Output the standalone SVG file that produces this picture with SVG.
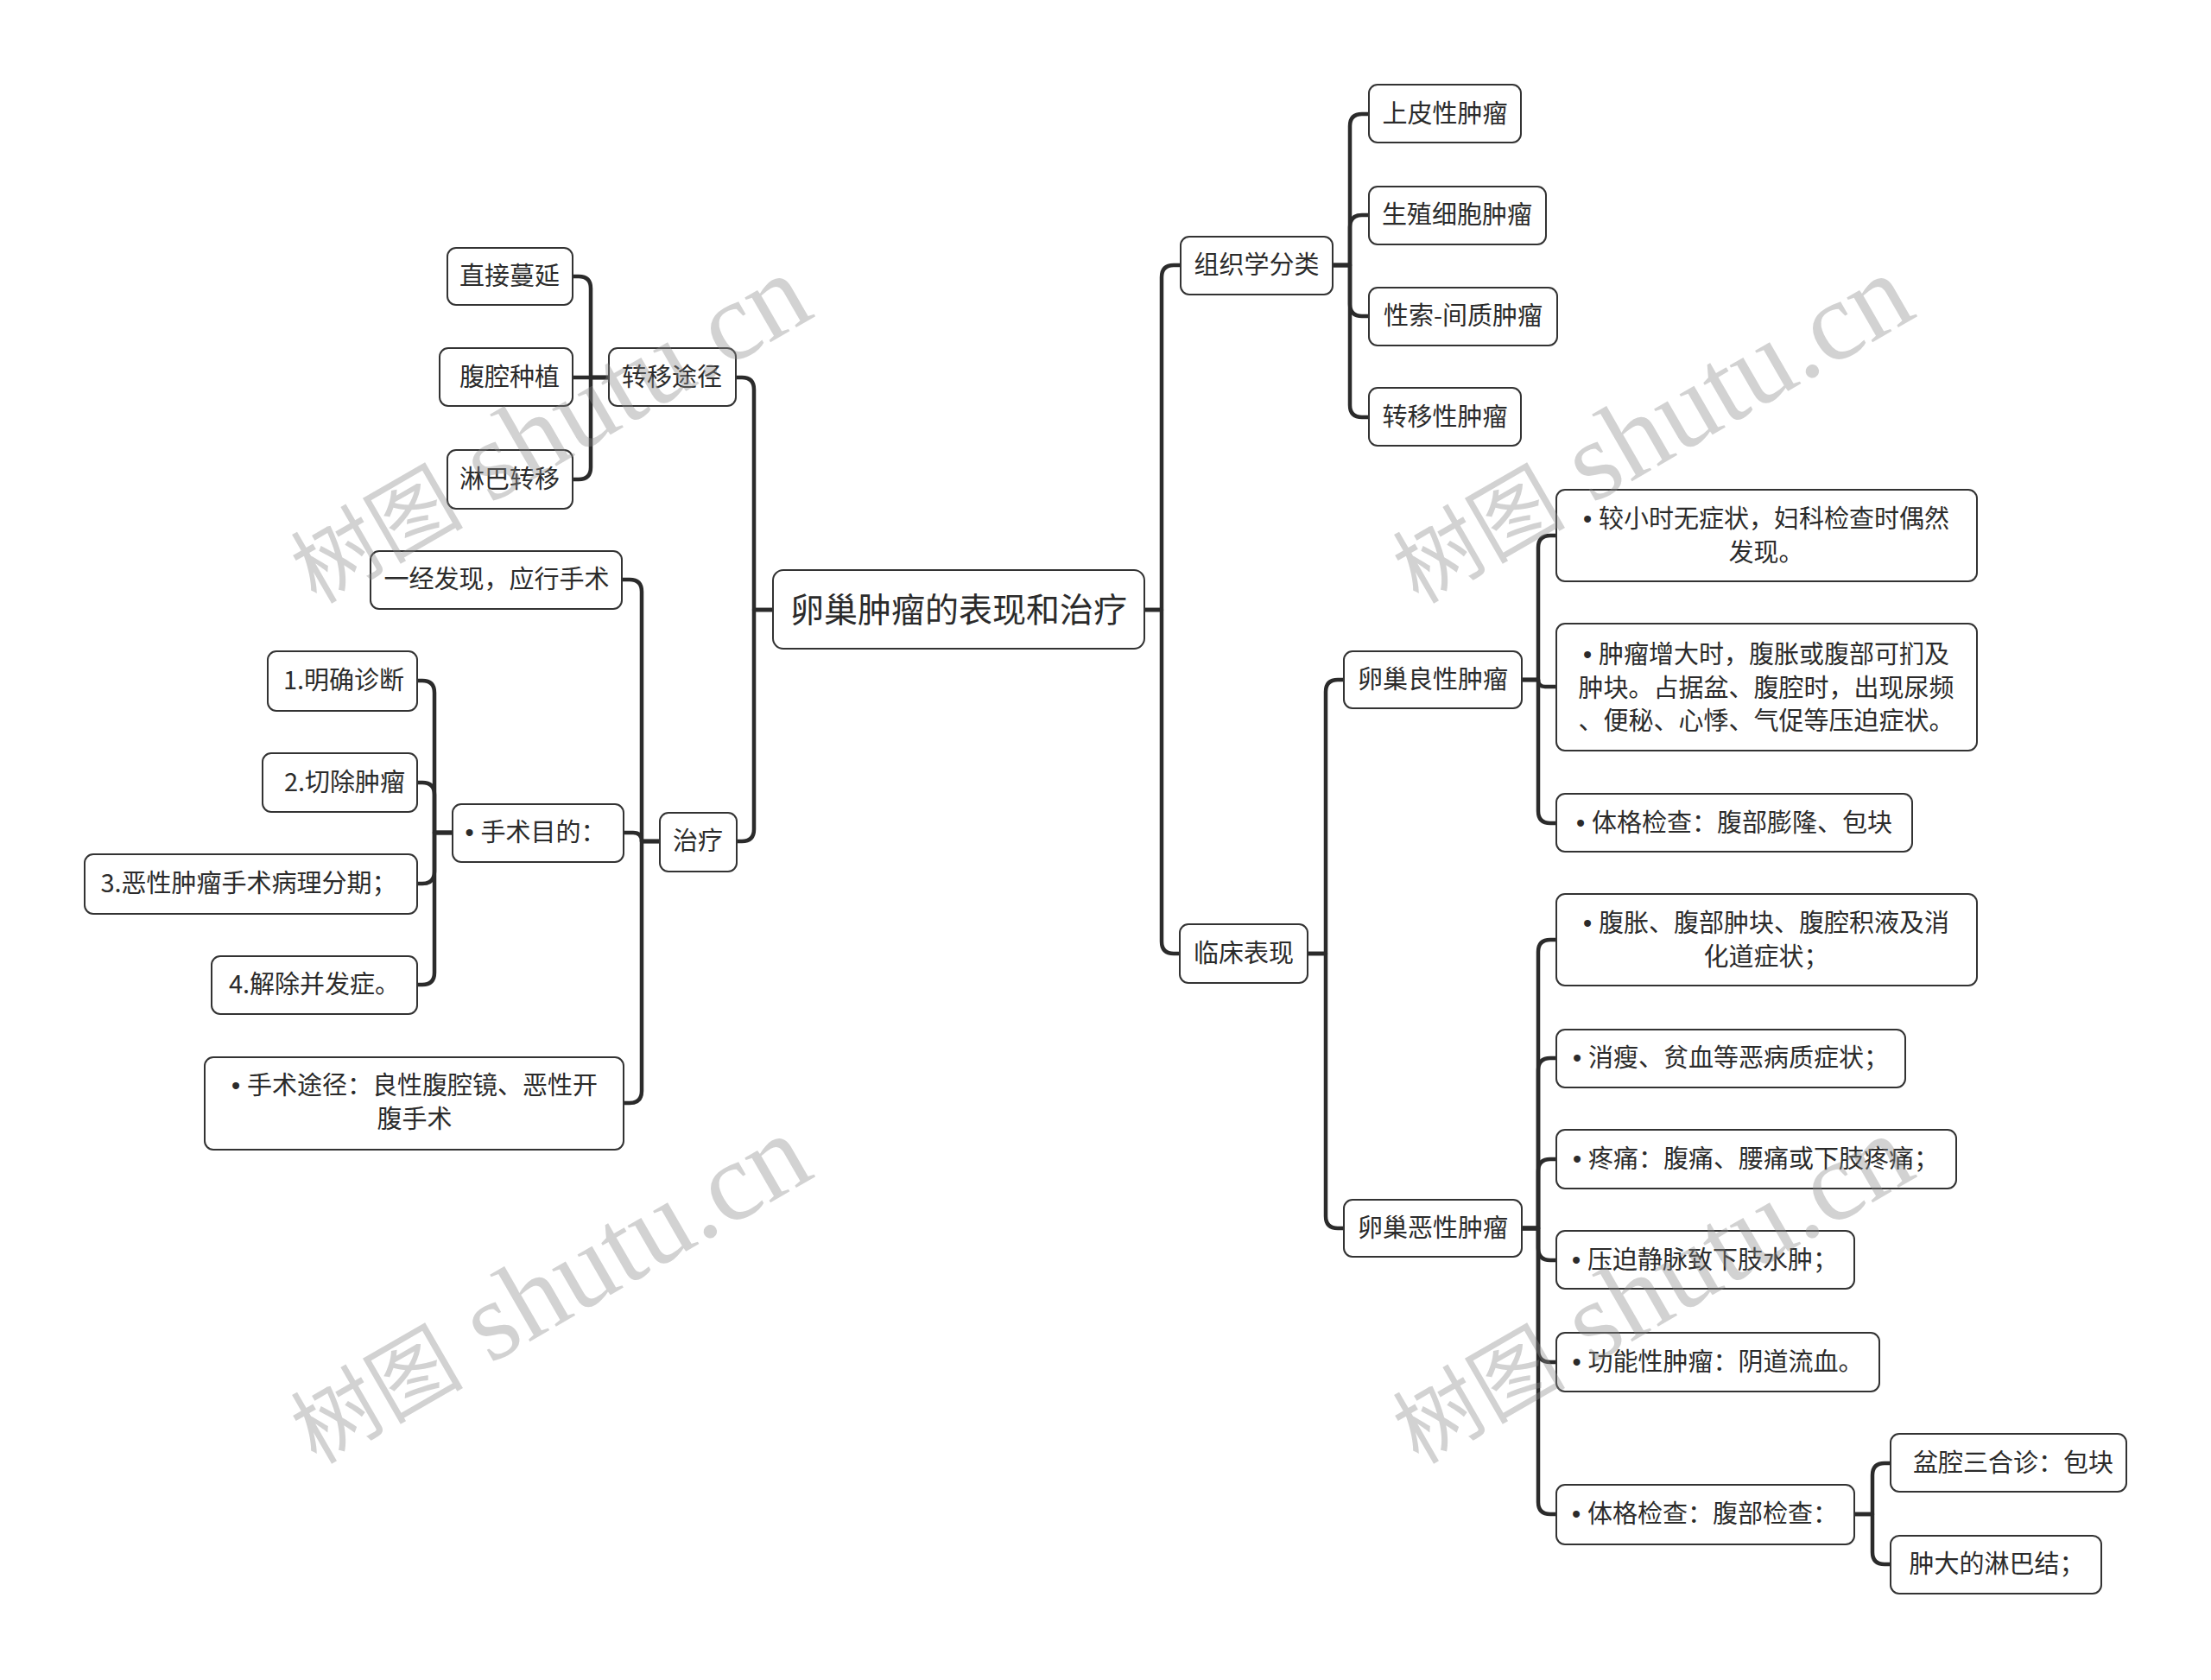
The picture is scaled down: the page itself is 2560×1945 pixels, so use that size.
<svg xmlns="http://www.w3.org/2000/svg" width="2560" height="1945" viewBox="0 0 2560 1945">
<style>
.node rect{fill:#ffffff;stroke:#333333;stroke-width:2}
.node text{font-family:"Noto Sans CJK SC","Noto Sans",sans-serif;font-size:29px;fill:#2b2b2b;text-anchor:middle}
.node .b{font-family:"Liberation Sans",sans-serif}
.root text{font-size:39px}
.conn path{fill:none;stroke:#2b2b2b;stroke-width:4.5;stroke-linecap:round;stroke-linejoin:round}
.wm{fill:#8a8a8a;fill-opacity:0.38}
.wm .cj{font-family:"Noto Sans CJK SC",sans-serif;font-size:100px}
.wm .la{font-family:"Liberation Serif",serif;font-size:130px}
</style>
<rect x="0" y="0" width="2560" height="1945" fill="#ffffff"/>
<g id="connectors" class="conn">
<path d="M895,706 H873 V451 Q873,437 859,437 H852"/>
<path d="M895,706 H873 V960 Q873,974 859,974 H853"/>
<path d="M705,437 H684 V334 Q684,320 670,320 H663"/>
<path d="M705,437 H663"/>
<path d="M705,437 H684 V541 Q684,555 670,555 H663"/>
<path d="M764,974 H743 V685 Q743,671 729,671 H720"/>
<path d="M764,974 H743 V974 Q743,964 733,964 H722"/>
<path d="M764,974 H743 V1263 Q743,1277 729,1277 H722"/>
<path d="M524,964 H503 V802 Q503,788 489,788 H483"/>
<path d="M524,964 H503 V920 Q503,906 489,906 H483"/>
<path d="M524,964 H503 V1009 Q503,1023 489,1023 H483"/>
<path d="M524,964 H503 V1126 Q503,1140 489,1140 H483"/>
<path d="M1325,706 H1345 V321 Q1345,307 1359,307 H1367"/>
<path d="M1325,706 H1345 V1090 Q1345,1104 1359,1104 H1366"/>
<path d="M1543,307 H1563 V146 Q1563,132 1577,132 H1585"/>
<path d="M1543,307 H1563 V263 Q1563,249 1577,249 H1585"/>
<path d="M1543,307 H1563 V352 Q1563,366 1577,366 H1585"/>
<path d="M1543,307 H1563 V469 Q1563,483 1577,483 H1585"/>
<path d="M1514,1104 H1535 V801 Q1535,787 1549,787 H1556"/>
<path d="M1514,1104 H1535 V1408 Q1535,1422 1549,1422 H1556"/>
<path d="M1762,787 H1781 V634 Q1781,620 1795,620 H1802"/>
<path d="M1762,787 H1781 V787 Q1781,795 1789,795 H1802"/>
<path d="M1762,787 H1781 V939 Q1781,953 1795,953 H1802"/>
<path d="M1762,1422 H1781 V1102 Q1781,1088 1795,1088 H1802"/>
<path d="M1762,1422 H1781 V1239 Q1781,1225 1795,1225 H1802"/>
<path d="M1762,1422 H1781 V1356 Q1781,1342 1795,1342 H1802"/>
<path d="M1762,1422 H1781 V1445 Q1781,1459 1795,1459 H1802"/>
<path d="M1762,1422 H1781 V1563 Q1781,1577 1795,1577 H1802"/>
<path d="M1762,1422 H1781 V1739 Q1781,1753 1795,1753 H1802"/>
<path d="M2147,1753 H2168 V1708 Q2168,1694 2182,1694 H2189"/>
<path d="M2147,1753 H2168 V1797 Q2168,1811 2182,1811 H2189"/>
</g>
<g id="root" class="node root"><rect x="895" y="660" width="430" height="91" rx="12"/><text x="1110" y="720">卵巢肿瘤的表现和治疗</text></g>
<g id="n-zhuanyi" class="node"><rect x="705" y="403" width="147" height="67" rx="10"/><text x="778" y="447">转移途径</text></g>
<g id="n-zhijie" class="node"><rect x="518" y="287" width="145" height="66" rx="10"/><text x="590" y="330">直接蔓延</text></g>
<g id="n-fuqiang" class="node"><rect x="509" y="403" width="154" height="67" rx="10"/><text x="590" y="447">腹腔种植</text></g>
<g id="n-linba" class="node"><rect x="518" y="521" width="145" height="68" rx="10"/><text x="590" y="565">淋巴转移</text></g>
<g id="n-zhiliao" class="node"><rect x="764" y="941" width="89" height="68" rx="10"/><text x="808" y="984">治疗</text></g>
<g id="n-yijing" class="node"><rect x="429" y="638" width="291" height="67" rx="10"/><text x="575" y="681">一经发现，应行手术</text></g>
<g id="n-mudi" class="node"><rect x="524" y="931" width="198" height="67" rx="10"/><text x="620" y="974"><tspan class="b">• </tspan>手术目的：</text></g>
<g id="n-m1" class="node"><rect x="310" y="754" width="173" height="69" rx="10"/><text x="398" y="798">1.明确诊断</text></g>
<g id="n-m2" class="node"><rect x="304" y="872" width="179" height="68" rx="10"/><text x="399" y="916">2.切除肿瘤</text></g>
<g id="n-m3" class="node"><rect x="98" y="989" width="385" height="69" rx="10"/><text x="288" y="1033">3.恶性肿瘤手术病理分期；</text></g>
<g id="n-m4" class="node"><rect x="245" y="1107" width="238" height="67" rx="10"/><text x="364" y="1150">4.解除并发症。</text></g>
<g id="n-tujing" class="node"><rect x="237" y="1224" width="485" height="107" rx="10"/><text x="480" y="1267"><tspan class="b">• </tspan>手术途径：良性腹腔镜、恶性开</text><text x="480" y="1306">腹手术</text></g>
<g id="n-zuzhi" class="node"><rect x="1367" y="274" width="176" height="67" rx="10"/><text x="1455" y="317">组织学分类</text></g>
<g id="n-shangpi" class="node"><rect x="1585" y="98" width="176" height="67" rx="10"/><text x="1673" y="142">上皮性肿瘤</text></g>
<g id="n-shengzhi" class="node"><rect x="1585" y="216" width="205" height="67" rx="10"/><text x="1687" y="259">生殖细胞肿瘤</text></g>
<g id="n-xingsuo" class="node"><rect x="1585" y="333" width="218" height="67" rx="10"/><text x="1694" y="376">性索-间质肿瘤</text></g>
<g id="n-zhuanyixing" class="node"><rect x="1585" y="449" width="176" height="67" rx="10"/><text x="1673" y="493">转移性肿瘤</text></g>
<g id="n-linchuang" class="node"><rect x="1366" y="1070" width="148" height="68" rx="10"/><text x="1440" y="1114">临床表现</text></g>
<g id="n-liangxing" class="node"><rect x="1556" y="754" width="206" height="66" rx="10"/><text x="1659" y="797">卵巢良性肿瘤</text></g>
<g id="n-exing" class="node"><rect x="1556" y="1389" width="206" height="66" rx="10"/><text x="1659" y="1432">卵巢恶性肿瘤</text></g>
<g id="n-l1" class="node"><rect x="1802" y="567" width="487" height="106" rx="10"/><text x="2045" y="611"><tspan class="b">• </tspan>较小时无症状，妇科检查时偶然</text><text x="2045" y="650">发现。</text></g>
<g id="n-l2" class="node"><rect x="1802" y="722" width="487" height="147" rx="10"/><text x="2045" y="768"><tspan class="b">• </tspan>肿瘤增大时，腹胀或腹部可扪及</text><text x="2045" y="807">肿块。占据盆、腹腔时，出现尿频</text><text x="2045" y="845">、便秘、心悸、气促等压迫症状。</text></g>
<g id="n-l3" class="node"><rect x="1802" y="919" width="412" height="67" rx="10"/><text x="2008" y="963"><tspan class="b">• </tspan>体格检查：腹部膨隆、包块</text></g>
<g id="n-e1" class="node"><rect x="1802" y="1035" width="487" height="106" rx="10"/><text x="2045" y="1079"><tspan class="b">• </tspan>腹胀、腹部肿块、腹腔积液及消</text><text x="2045" y="1118">化道症状；</text></g>
<g id="n-e2" class="node"><rect x="1802" y="1192" width="404" height="67" rx="10"/><text x="2004" y="1235"><tspan class="b">• </tspan>消瘦、贫血等恶病质症状；</text></g>
<g id="n-e3" class="node"><rect x="1802" y="1308" width="463" height="68" rx="10"/><text x="2033" y="1352"><tspan class="b">• </tspan>疼痛：腹痛、腰痛或下肢疼痛；</text></g>
<g id="n-e4" class="node"><rect x="1802" y="1425" width="345" height="67" rx="10"/><text x="1974" y="1469"><tspan class="b">• </tspan>压迫静脉致下肢水肿；</text></g>
<g id="n-e5" class="node"><rect x="1802" y="1543" width="374" height="68" rx="10"/><text x="1989" y="1587"><tspan class="b">• </tspan>功能性肿瘤：阴道流血。</text></g>
<g id="n-e6" class="node"><rect x="1802" y="1719" width="345" height="69" rx="10"/><text x="1974" y="1763"><tspan class="b">• </tspan>体格检查：腹部检查：</text></g>
<g id="n-e6a" class="node"><rect x="2189" y="1660" width="273" height="67" rx="10"/><text x="2331" y="1704">盆腔三合诊：包块</text></g>
<g id="n-e6b" class="node"><rect x="2189" y="1778" width="244" height="67" rx="10"/><text x="2312" y="1821">肿大的淋巴结；</text></g>
<g id="watermarks" class="wm">
<text transform="translate(366,700) rotate(-30)"><tspan class="cj">树图</tspan><tspan class="la"> shutu.cn</tspan></text>
<text transform="translate(1642,700) rotate(-30)"><tspan class="cj">树图</tspan><tspan class="la"> shutu.cn</tspan></text>
<text transform="translate(366,1696) rotate(-30)"><tspan class="cj">树图</tspan><tspan class="la"> shutu.cn</tspan></text>
<text transform="translate(1642,1696) rotate(-30)"><tspan class="cj">树图</tspan><tspan class="la"> shutu.cn</tspan></text>
</g>
</svg>
